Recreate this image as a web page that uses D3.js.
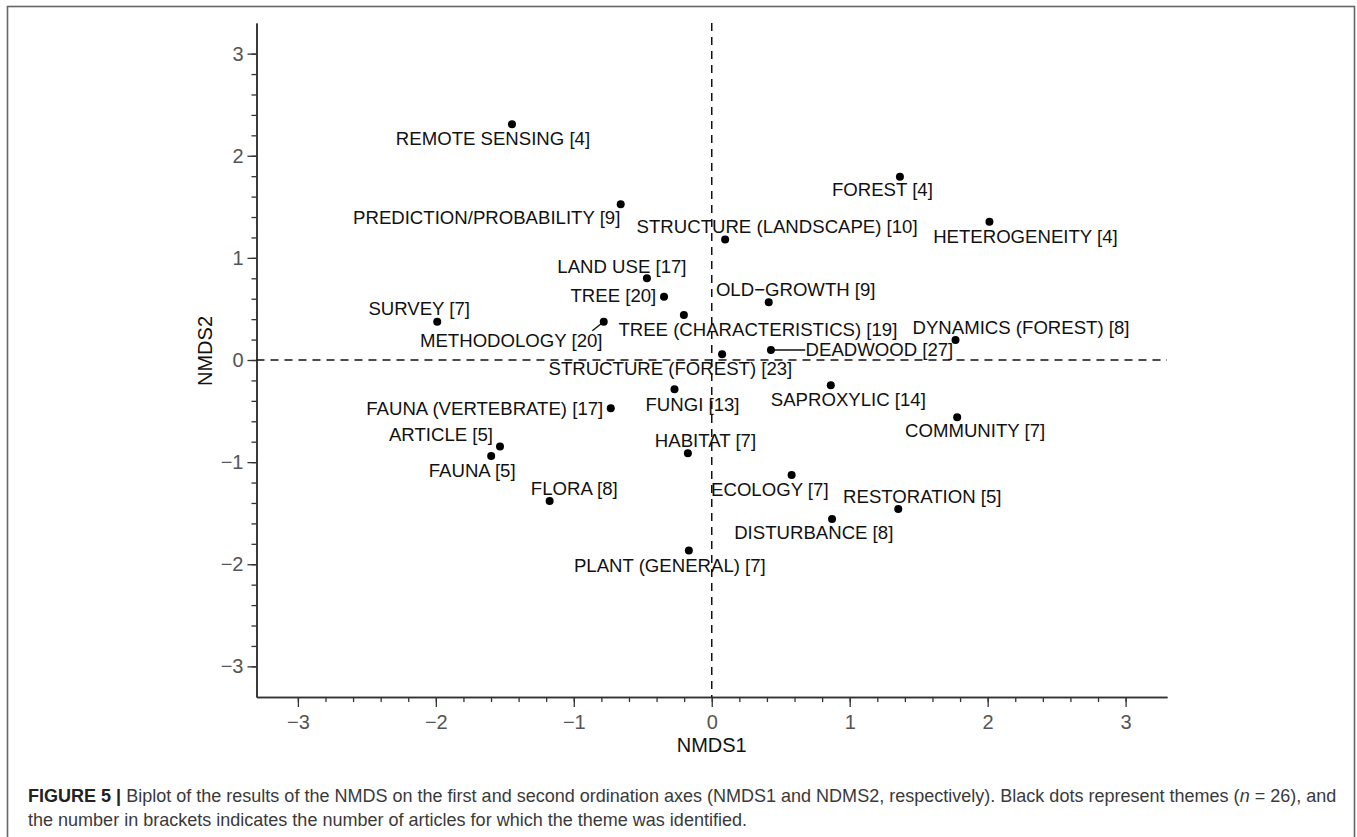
<!DOCTYPE html>
<html>
<head>
<meta charset="utf-8">
<script src="https://cdn.jsdelivr.net/npm/d3@7"></script>
<style>
  body { margin: 0; background: #fff; }
  svg { display: block; font-family: "Liberation Sans", Arial, sans-serif; }
  .tick text { fill: #555; font-size: 20px; }
  .domain, .tick line { stroke: #333; }
</style>
</head>
<body>
<div id="chart"></div>
<script>
// themes (number of articles in brackets) and NMDS scores
var themes = ["REMOTE SENSING [4]", "PREDICTION/PROBABILITY [9]", "STRUCTURE (LANDSCAPE) [10]",
  "FOREST [4]", "HETEROGENEITY [4]", "LAND USE [17]", "TREE [20]", "OLD\u2212GROWTH [9]",
  "SURVEY [7]", "METHODOLOGY [20]", "TREE (CHARACTERISTICS) [19]", "DYNAMICS (FOREST) [8]",
  "DEADWOOD [27]", "STRUCTURE (FOREST) [23]", "SAPROXYLIC [14]", "COMMUNITY [7]",
  "FUNGI [13]", "FAUNA (VERTEBRATE) [17]", "ARTICLE [5]", "FAUNA [5]", "HABITAT [7]",
  "FLORA [8]", "ECOLOGY [7]", "RESTORATION [5]", "DISTURBANCE [8]", "PLANT (GENERAL) [7]"];
var nmds1 = [-1.448, -0.660, 0.097, 1.364, 2.013, -0.470, -0.346, 0.413, -1.990, -0.783, -0.202, 1.767,
  0.429, 0.075, 0.863, 1.779, -0.270, -0.732, -1.535, -1.599, -0.173, -1.175, 0.579, 1.352, 0.872, -0.166];
var nmds2 = [2.309, 1.526, 1.180, 1.794, 1.353, 0.800, 0.619, 0.565, 0.375, 0.375, 0.440, 0.196,
  0.098, 0.056, -0.248, -0.561, -0.287, -0.473, -0.848, -0.939, -0.913, -1.380, -1.125, -1.458, -1.556, -1.866];
var majorTicks = [-3, -2, -1, 0, 1, 2, 3];

// label placement (pixels from the dot), like the repelled labels of the original
var labelNudge = [[-19, 14], [-134, 13], [52, -13], [-17.5, 13], [36, 15], [-25, -12], [-50.6, -1.7], [27, -13],
  [-18, -13], [-92.5, 19], [74, 14], [65.5, -12], [108.5, 0], [-51.7, 14], [17.5, 14], [18, 13.7],
  [18, 14.7], [-126, 0], [-59, -12], [-19, 15], [17.6, -12.3], [24.6, -12.7], [-21.8, 14.3], [24, -12.3],
  [-18.3, 13.7], [-19, 15]];
// leader line ends for the two labels that sit away from their dot
var leaders = {9: [-11.4, 9], 12: [34.3, 0]};

var W = 1357, H = 837;
var svg = d3.select("#chart").append("svg")
  .attr("width", W).attr("height", H);

svg.append("rect").attr("width", W).attr("height", H).attr("fill", "#fff");
// figure frame
svg.append("rect")
  .attr("x", 7.5).attr("y", 6.5).attr("width", 1347).attr("height", 860)
  .attr("fill", "none").attr("stroke", "#666").attr("stroke-width", 1.6);

var x = d3.scaleLinear().domain([-3.3, 3.3]).range([256.5, 1167]);
var y = d3.scaleLinear().domain([-3.3, 3.3]).range([697, 23]);

var minor = d3.range(-15, 16).map(function(i){ return i / 5; });
var fmt = d3.format("d");

//x axis
var gx = svg.append("g").attr("transform", "translate(0,697)");
gx.append("g").call(d3.axisBottom(x).tickValues(minor).tickSize(5).tickSizeOuter(0).tickFormat(""));
gx.append("g").call(d3.axisBottom(x).tickValues(majorTicks).tickSize(10).tickSizeOuter(0).tickPadding(8).tickFormat(fmt));

//y axis
var gy = svg.append("g").attr("transform", "translate(256.5,0)");
gy.append("g").call(d3.axisLeft(y).tickValues(minor).tickSize(5).tickSizeOuter(0).tickFormat(""));
gy.append("g").call(d3.axisLeft(y).tickValues(majorTicks).tickSize(9).tickSizeOuter(0).tickPadding(4).tickFormat(fmt));

svg.selectAll(".domain").attr("stroke-width", 1.6);
svg.selectAll(".tick line").attr("stroke-width", 1.3);

// zero lines
svg.append("line")
  .attr("x1", x(-3.3)).attr("x2", x(3.3)).attr("y1", y(0)).attr("y2", y(0))
  .attr("stroke", "#111").attr("stroke-width", 1.5).attr("stroke-dasharray", "8,6");
svg.append("line")
  .attr("x1", x(0)).attr("x2", x(0)).attr("y1", y(3.3)).attr("y2", y(-3.3))
  .attr("stroke", "#111").attr("stroke-width", 1.5).attr("stroke-dasharray", "8,6");

//axis titles
svg.append("text").text("NMDS1")
  .attr("x", x(0)).attr("y", 745).attr("dominant-baseline", "central")
  .attr("text-anchor", "middle").attr("font-size", 20).attr("fill", "#111");
svg.append("text").text("NMDS2")
  .attr("transform", "translate(205,351)rotate(-90)")
  .attr("dominant-baseline", "central")
  .attr("text-anchor", "middle").attr("font-size", 20).attr("fill", "#111");

var data = themes.map(function(t, i){
  return {name: t, x: nmds1[i], y: nmds2[i], nudge: labelNudge[i], leader: leaders[i]};
});

// leader lines
svg.append("g").selectAll("line")
  .data(data.filter(function(d){ return d.leader; }))
  .enter().append("line")
  .attr("x1", function(d){ return x(d.x); })
  .attr("y1", function(d){ return y(d.y); })
  .attr("x2", function(d){ return x(d.x) + d.leader[0]; })
  .attr("y2", function(d){ return y(d.y) + d.leader[1]; })
  .attr("stroke", "#111").attr("stroke-width", 1.4);

// dots
svg.append("g").selectAll("circle")
  .data(data).enter().append("circle")
  .attr("cx", function(d){ return x(d.x); })
  .attr("cy", function(d){ return y(d.y); })
  .attr("r", 4).attr("fill", "#000");

// labels
svg.append("g").selectAll("text")
  .data(data).enter().append("text")
  .text(function(d){ return d.name; })
  .attr("x", function(d){ return x(d.x) + d.nudge[0]; })
  .attr("y", function(d){ return y(d.y) + d.nudge[1]; })
  .attr("text-anchor", "middle")
  .attr("dominant-baseline", "central")
  .attr("font-size", 18.6)
  .attr("fill", "#111");

// caption
var cap = svg.append("g").attr("fill", "#3a3a3a");
var line1 = cap.append("text").attr("x", 28).attr("y", 802);
line1.append("tspan").attr("font-weight", "bold").attr("fill", "#222").text("FIGURE 5 |");
line1.append("tspan").text(" Biplot of the results of the NMDS on the first and second ordination axes (NMDS1 and NDMS2, respectively). Black dots represent themes (");
line1.append("tspan").attr("font-style", "italic").text("n");
line1.append("tspan").text(" = 26), and");
var line2 = cap.append("text").attr("x", 28).attr("y", 826)
  .text("the number in brackets indicates the number of articles for which the theme was identified.");

// fit caption font to the printed line width
line1.attr("font-size", 16);
var w1 = line1.node().getComputedTextLength();
var fs = 16 * 1309 / w1;
line1.attr("font-size", fs);
line2.attr("font-size", fs);
</script>
</body>
</html>
